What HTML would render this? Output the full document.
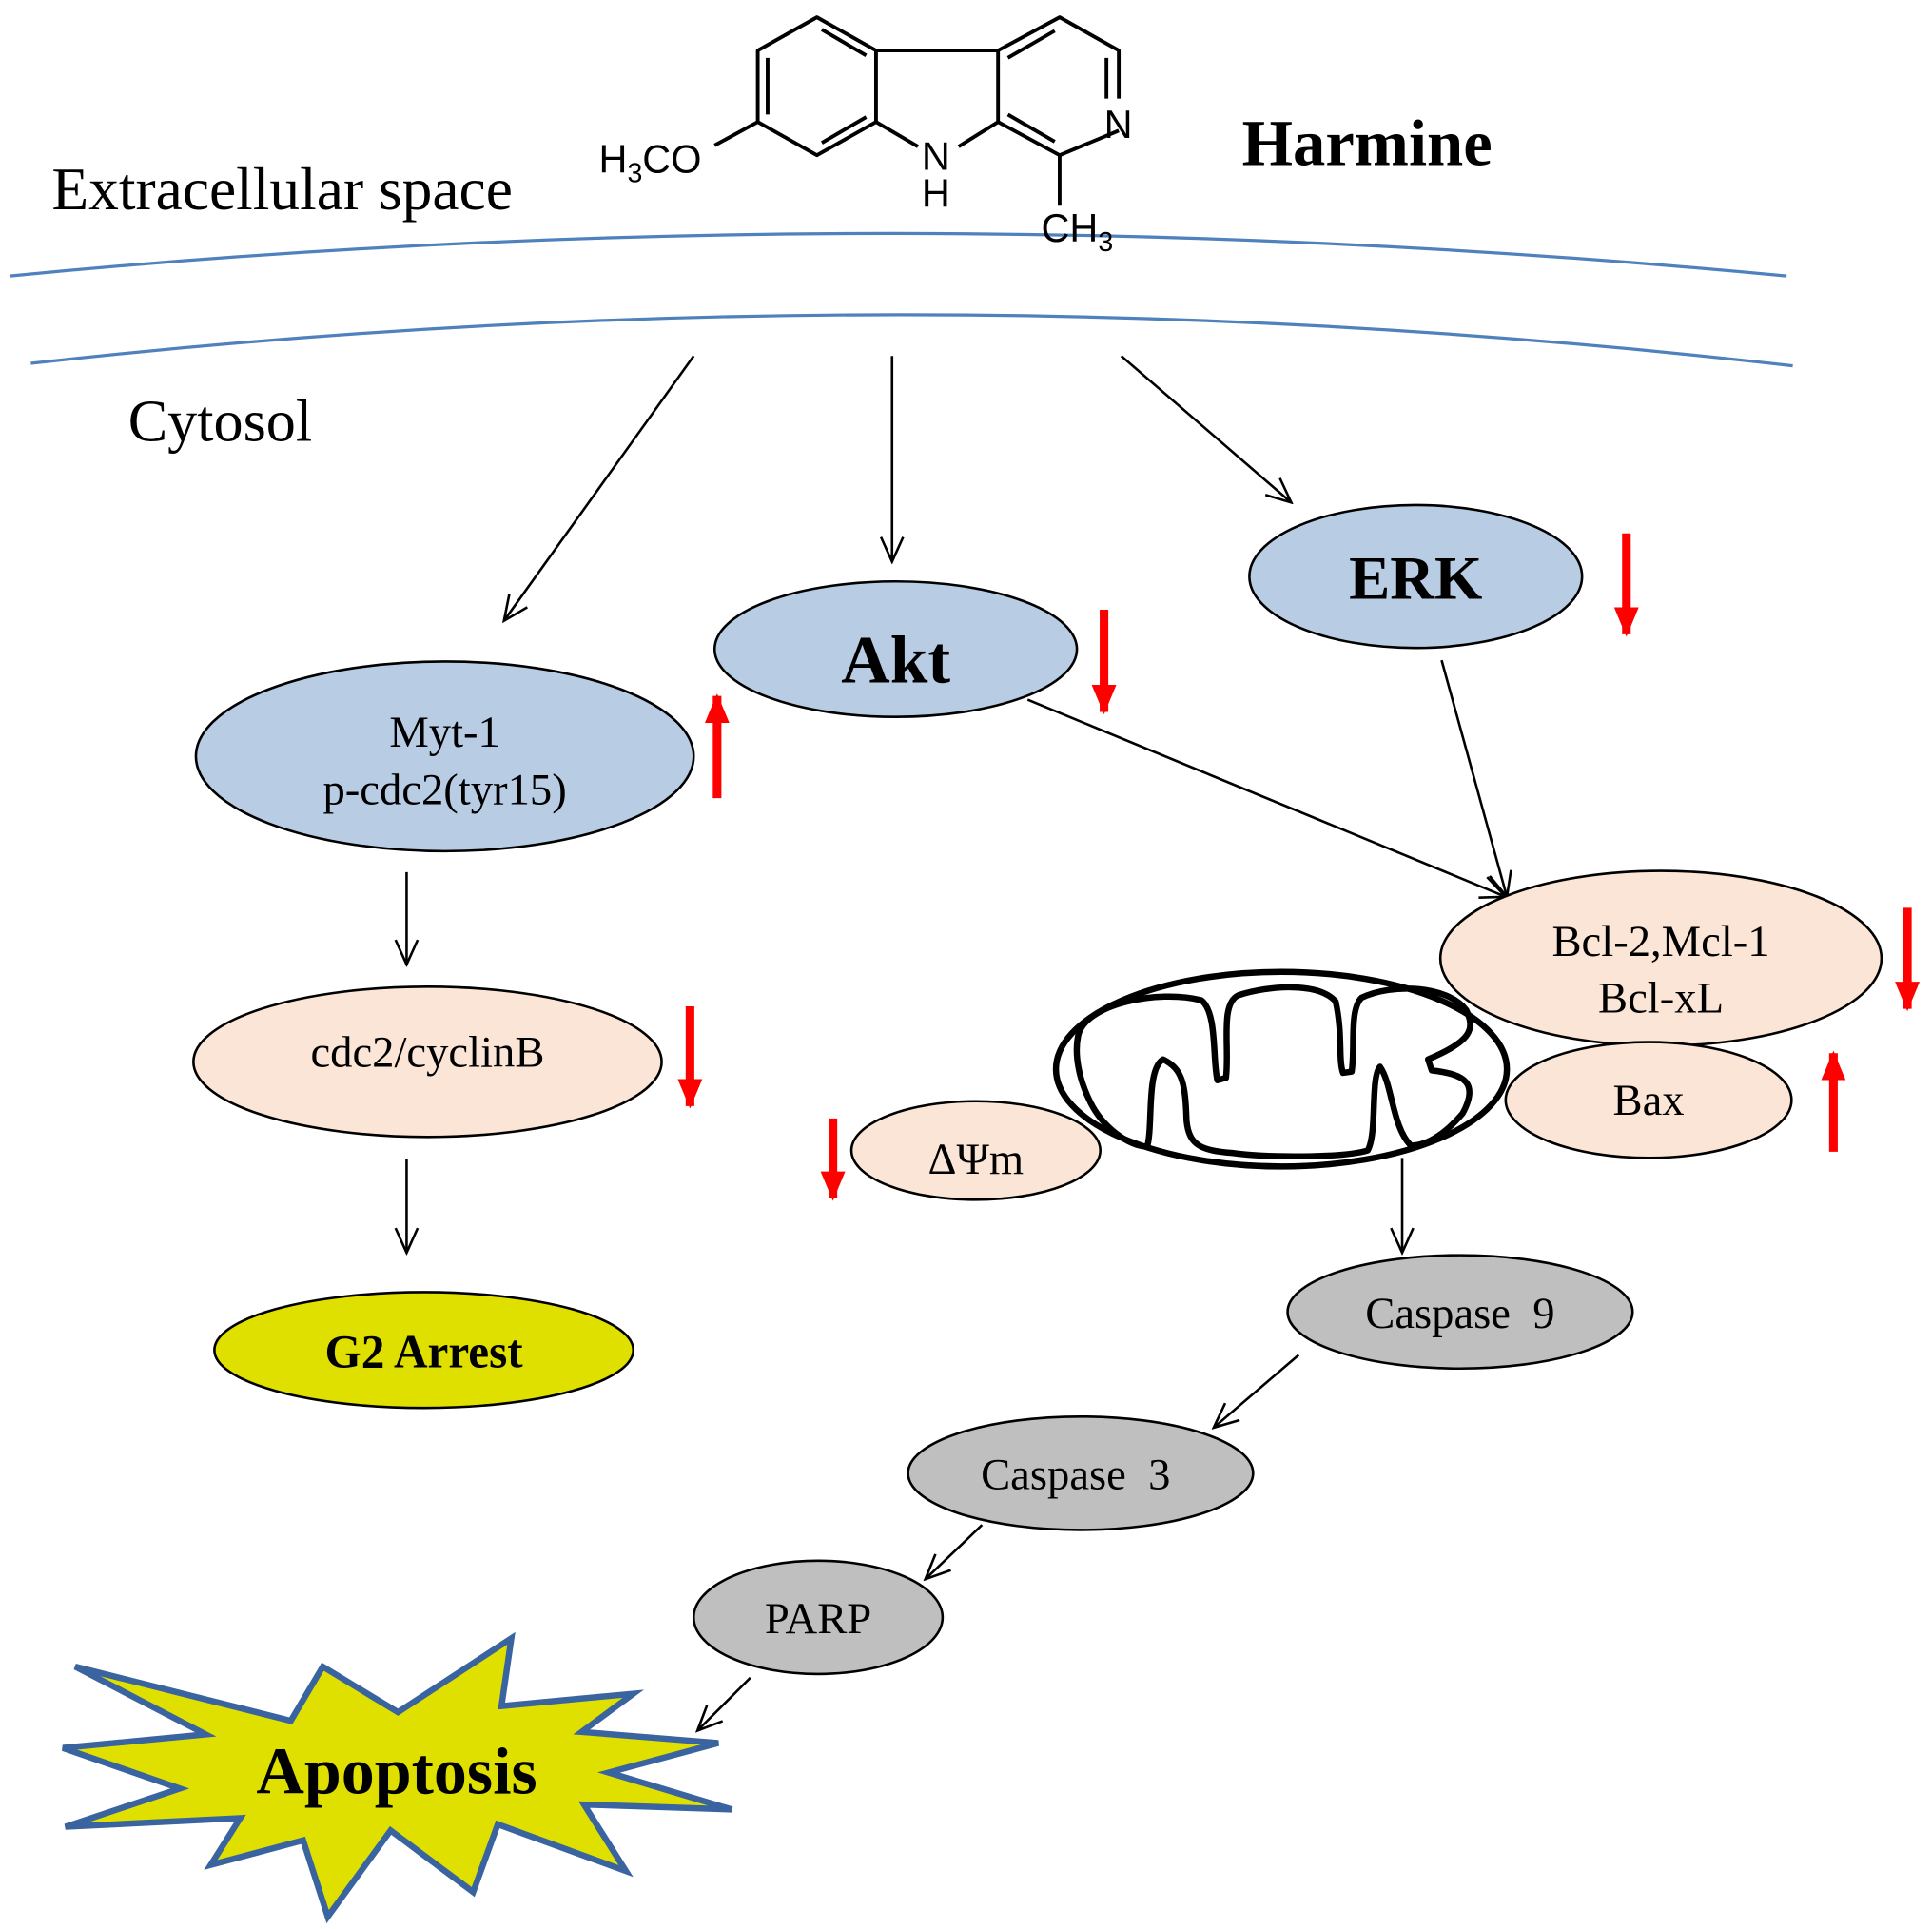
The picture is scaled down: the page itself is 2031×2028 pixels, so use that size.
<!DOCTYPE html>
<html><head><meta charset="utf-8"><style>html,body{margin:0;padding:0;background:#fff}svg{display:block}</style></head>
<body>
<svg width="2031" height="2028" viewBox="0 0 1568 1566" preserveAspectRatio="none" xmlns="http://www.w3.org/2000/svg" font-family="Liberation Serif, serif">
<defs>
<marker id="a" markerWidth="24" markerHeight="24" refX="22" refY="12" orient="auto" markerUnits="userSpaceOnUse"><path d="M2,3 L22,12 L2,21" fill="none" stroke="#000" stroke-width="2"/></marker>
<marker id="r" markerWidth="30" markerHeight="24" refX="22" refY="12" orient="auto" markerUnits="userSpaceOnUse"><path d="M0,2 L24,12 L0,22 Z" fill="#ff0000"/></marker>
</defs>
<rect width="1568" height="1566" fill="#fff"/>
<!-- membrane -->
<path d="M8,224 Q720,155 1450,224" fill="none" stroke="#4f81bd" stroke-width="2.5"/>
<path d="M25,295 Q740,215 1455,297" fill="none" stroke="#4f81bd" stroke-width="2.5"/>
<text x="42" y="170" font-size="49">Extracellular space</text>
<text x="104" y="358" font-size="48">Cytosol</text>
<text x="1008" y="134" font-size="53" font-weight="bold">Harmine</text>
<!-- harmine -->
<g stroke="#000" stroke-width="3" fill="none" stroke-linejoin="round">
<path d="M663,14 L615,41 L615,99 L663,126 L711,99 L711,41 Z"/>
<path d="M623,47 L623,93 M667,24 L703,45 M667,116 L703,95"/>
<path d="M711,41 L810,41 L810,99 L778,119 M745,119 L711,99"/>
<path d="M810,41 L860,14 L908,41 L908,80 M908,106 L860,126 L810,99"/>
<path d="M818,47 L856,25 M898,47 L898,80 M818,93 L856,115"/>
<path d="M860,126 L860,167 M615,99 L580,118"/>
</g>
<g font-family="Liberation Sans, sans-serif" font-size="32">
<text x="486" y="140">H<tspan font-size="22" dy="8">3</tspan><tspan dy="-8">CO</tspan></text>
<text x="896" y="112">N</text>
<text x="748" y="138">N</text>
<text x="748" y="168">H</text>
<text x="845" y="196">CH<tspan font-size="22" dy="8">3</tspan></text>
</g>
<!-- arrows -->
<g stroke="#000" stroke-width="2" marker-end="url(#a)">
<line x1="563" y1="289" x2="409" y2="504"/>
<line x1="724" y1="289" x2="724" y2="456"/>
<line x1="910" y1="289" x2="1048" y2="408"/>
<line x1="834" y1="568" x2="1222" y2="728"/>
<line x1="1170" y1="536" x2="1223" y2="728"/>
<line x1="330" y1="708" x2="330" y2="783"/>
<line x1="330" y1="941" x2="330" y2="1017"/>
<line x1="1138" y1="940" x2="1138" y2="1017"/>
<line x1="1054" y1="1100" x2="985" y2="1159"/>
<line x1="797" y1="1238" x2="751" y2="1282"/>
<line x1="609" y1="1362" x2="566" y2="1405"/>
</g>
<!-- ellipses -->
<g stroke="#000" stroke-width="2">
<ellipse cx="1149" cy="468" rx="135" ry="58" fill="#b8cce4"/>
<ellipse cx="727" cy="527" rx="147" ry="55" fill="#b8cce4"/>
<ellipse cx="361" cy="614" rx="202" ry="77" fill="#b8cce4"/>
<ellipse cx="347" cy="862" rx="190" ry="61" fill="#fbe5d6"/>
<ellipse cx="344" cy="1096" rx="170" ry="47" fill="#e0e000"/>
<ellipse cx="1348" cy="778" rx="179" ry="71" fill="#fbe5d6"/>
<ellipse cx="1338" cy="893" rx="116" ry="47" fill="#fbe5d6"/>
<ellipse cx="792" cy="934" rx="101" ry="40" fill="#fbe5d6"/>
<ellipse cx="1185" cy="1065" rx="140" ry="46" fill="#bfbfbf"/>
<ellipse cx="877" cy="1196" rx="140" ry="46" fill="#bfbfbf"/>
<ellipse cx="664" cy="1313" rx="101" ry="46" fill="#bfbfbf"/>
</g>
<!-- mitochondrion -->
<ellipse cx="1040" cy="868" rx="183" ry="79" fill="#fff" stroke="#000" stroke-width="5"/>
<path d="M875,841 C880,815 940,803 975,812 C988,822 984,860 988,877 L995,875 C998,850 990,815 1005,808 C1030,800 1070,797 1084,813 C1090,840 1086,860 1090,871 L1097,870 C1100,850 1095,820 1105,810 C1130,798 1175,800 1190,820 C1197,835 1195,845 1159,860 L1162,869 C1190,872 1200,880 1187,904 C1175,918 1160,930 1145,930 C1130,915 1130,880 1120,866 C1112,875 1118,920 1110,934 C1090,940 1030,940 1000,936 C975,934 965,930 963,910 C962,880 960,868 944,860 C930,868 936,915 931,931 C915,930 895,915 885,895 C875,875 872,855 875,841 Z" fill="none" stroke="#000" stroke-width="5" stroke-linejoin="round"/>
<!-- red arrows -->
<g stroke="#ff0000" stroke-width="7" marker-end="url(#r)">
<line x1="1320" y1="433" x2="1320" y2="515"/>
<line x1="896" y1="495" x2="896" y2="578"/>
<line x1="582" y1="648" x2="582" y2="565"/>
<line x1="560" y1="817" x2="560" y2="898"/>
<line x1="1548" y1="737" x2="1548" y2="819"/>
<line x1="1488" y1="935" x2="1488" y2="855"/>
<line x1="676" y1="908" x2="676" y2="973"/>
</g>
<!-- labels -->
<g text-anchor="middle">
<text x="1149" y="486" font-size="50" font-weight="bold">ERK</text>
<text x="727" y="554" font-size="55" font-weight="bold">Akt</text>
<text x="361" y="606" font-size="36">Myt-1</text>
<text x="361" y="653" font-size="36">p-cdc2(tyr15)</text>
<text x="347" y="866" font-size="36">cdc2/cyclinB</text>
<text x="344" y="1110" font-size="38" font-weight="bold">G2 Arrest</text>
<text x="1348" y="776" font-size="36">Bcl-2,Mcl-1</text>
<text x="1348" y="822" font-size="36">Bcl-xL</text>
<text x="1338" y="905" font-size="36">Bax</text>
<text x="792" y="953" font-size="36">ΔΨm</text>
<text x="1185" y="1078" font-size="36" xml:space="preserve">Caspase  9</text>
<text x="873" y="1209" font-size="36" xml:space="preserve">Caspase  3</text>
<text x="664" y="1326" font-size="36">PARP</text>
</g>
<!-- apoptosis star -->
<path d="M61,1353 L236,1397 L262,1353 L323,1390 L415,1330 L407,1385 L514,1375 L472,1406 L583,1415 L494,1439 L594,1469 L474,1465 L508,1519 L404,1481 L384,1536 L317,1486 L266,1556 L246,1494 L171,1514 L195,1476 L53,1483 L146,1452 L51,1419 L167,1408 Z" fill="#e0e000" stroke="#3a64a0" stroke-width="5" stroke-linejoin="miter"/>
<text x="322" y="1456" font-size="54" font-weight="bold" text-anchor="middle">Apoptosis</text>
</svg>
</body></html>
